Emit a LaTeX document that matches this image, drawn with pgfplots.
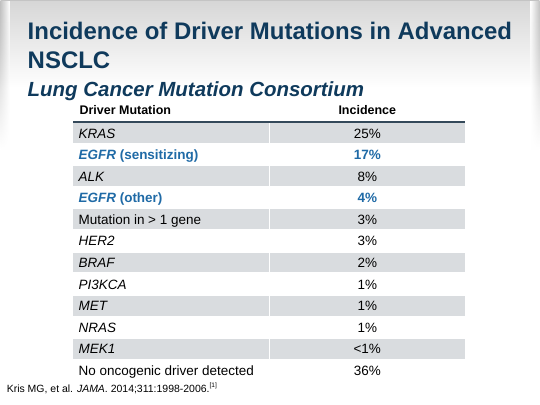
\documentclass[border=0pt]{standalone}
\usepackage{pgfplots}
\pgfplotsset{compat=1.18}
\usepackage{fontspec}
\setmainfont{Liberation Sans}
\usetikzlibrary{fadings}
\definecolor{titleblue}{HTML}{0F3A5C}
\definecolor{egfrblue}{HTML}{1F6AA6}
\definecolor{rowgray}{HTML}{D9DCDF}
\definecolor{rulecol}{HTML}{34495A}
\definecolor{bgtop}{HTML}{D6D6D6}
\definecolor{edgegray}{HTML}{C4C4C4}
\begin{document}
\begin{tikzpicture}
\begin{axis}[
  scale only axis, width=540pt, height=405pt,
  xmin=0, xmax=540, ymin=0, ymax=405, y dir=reverse,
  hide axis, clip=false,
  /pgf/number format/assume math mode=true,
]
% background
\addplot[fill=white, draw=none] coordinates {(0,0)(540,0)(540,405)(0,405)} -- cycle;
\addplot[draw=none, top color=bgtop, bottom color=white] coordinates {(0,0)(540,0)(540,88)(0,88)} -- cycle;
\addplot[draw=none, left color=edgegray, right color=white, path fading=south] coordinates {(0,0)(9,0)(9,150)(0,150)} -- cycle;
\addplot[draw=none, right color=edgegray, left color=white, path fading=south] coordinates {(531,0)(540,0)(540,150)(531,150)} -- cycle;
\addplot[draw=edgegray, line width=1.2pt] coordinates {(0,0.6)(540,0.6)};
% shaded rows
\addplot[fill=rowgray, draw=none] coordinates {(73,123.5)(465,123.5)(465,143.5)(73,143.5)} -- cycle;
\addplot[fill=rowgray, draw=none] coordinates {(73,166.7)(465,166.7)(465,186.7)(73,186.7)} -- cycle;
\addplot[fill=rowgray, draw=none] coordinates {(73,209.9)(465,209.9)(465,229.9)(73,229.9)} -- cycle;
\addplot[fill=rowgray, draw=none] coordinates {(73,253.1)(465,253.1)(465,273.1)(73,273.1)} -- cycle;
\addplot[fill=rowgray, draw=none] coordinates {(73,296.3)(465,296.3)(465,316.3)(73,316.3)} -- cycle;
\addplot[fill=rowgray, draw=none] coordinates {(73,339.5)(465,339.5)(465,359.5)(73,359.5)} -- cycle;
\addplot[draw=white, line width=1.6pt] coordinates {(269.3,120)(269.3,385)};
% header rule
\addplot[draw=rulecol, line width=1.6pt] coordinates {(73,122)(465,122)};
% values (black)
\addplot[only marks, mark=none, point meta=explicit,
  nodes near coords={\pgfmathprintnumber[assume math mode=true]{\pgfplotspointmeta}\%},
  nodes near coords style={anchor=base, inner sep=0pt, font=\fontsize{13.5}{16}\selectfont, text=black}]
  coordinates {
  (367.5,138.5) [25]
  (367.5,181.7) [8]
  (367.5,224.9) [3]
  (367.5,246.5) [3]
  (367.5,268.1) [2]
  (367.5,289.7) [1]
  (367.5,311.3) [1]
  (367.5,332.9) [1]
  (367.5,376.1) [36]
  };
% values (blue bold)
\addplot[only marks, mark=none, point meta=explicit,
  nodes near coords={\pgfmathprintnumber[assume math mode=true]{\pgfplotspointmeta}\%},
  nodes near coords style={anchor=base, inner sep=0pt, font=\fontsize{13.5}{16}\selectfont\bfseries, text=egfrblue}]
  coordinates {
  (367.5,160.1) [17]
  (367.5,203.3) [4]
  };
\node[anchor=base, inner sep=0pt, font=\fontsize{13.5}{16}\selectfont] at (axis cs:367.5,354.5) {<1\%};
% titles
\node[anchor=base west, inner sep=0pt, font=\fontsize{24}{28}\selectfont\bfseries, text=titleblue] at (axis cs:27,40) {Incidence of Driver Mutations in Advanced};
\node[anchor=base west, inner sep=0pt, font=\fontsize{24}{28}\selectfont\bfseries, text=titleblue] at (axis cs:27,69) {NSCLC};
\node[anchor=base west, inner sep=0pt, font=\fontsize{20.5}{24}\selectfont\bfseries\itshape, text=titleblue] at (axis cs:27,97) {Lung Cancer Mutation Consortium};
% header
\node[anchor=base west, inner sep=0pt, font=\fontsize{12.5}{15}\selectfont\bfseries] at (axis cs:79,115) {Driver Mutation};
\node[anchor=base, inner sep=0pt, font=\fontsize{12.5}{15}\selectfont\bfseries] at (axis cs:367.5,115) {Incidence};
% row labels
\begin{scope}[every node/.style={anchor=base west, inner sep=0pt, font=\fontsize{13.5}{16}\selectfont}]
\node at (axis cs:78,138.5) {\textit{KRAS}};
\node[text=egfrblue, font=\fontsize{13.5}{16}\selectfont\bfseries] at (axis cs:78,160.1) {\textit{EGFR} (sensitizing)};
\node at (axis cs:78,181.7) {\textit{ALK}};
\node[text=egfrblue, font=\fontsize{13.5}{16}\selectfont\bfseries] at (axis cs:78,203.3) {\textit{EGFR} (other)};
\node at (axis cs:78,224.9) {Mutation in > 1 gene};
\node at (axis cs:78,246.5) {\textit{HER2}};
\node at (axis cs:78,268.1) {\textit{BRAF}};
\node at (axis cs:78,289.7) {\textit{PI3KCA}};
\node at (axis cs:78,311.3) {\textit{MET}};
\node at (axis cs:78,332.9) {\textit{NRAS}};
\node at (axis cs:78,354.5) {\textit{MEK1}};
\node at (axis cs:78,376.1) {No oncogenic driver detected};
\end{scope}
% footer
\node[anchor=base west, inner sep=0pt, font=\fontsize{10.5}{12}\selectfont] at (axis cs:6,393.5) {Kris MG, et al. \textit{JAMA}. 2014;311:1998-2006.\raisebox{0.45em}{\fontsize{6.5}{7}\selectfont[1]}};
\end{axis}
\end{tikzpicture}
\end{document}
